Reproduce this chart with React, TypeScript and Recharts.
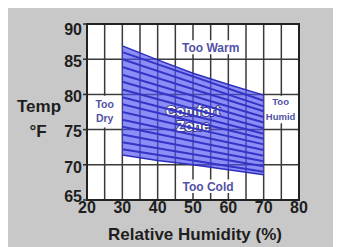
import React from "react"
import {
  ComposedChart,
  Area,
  Line,
  XAxis,
  YAxis,
  CartesianGrid,
  ReferenceArea,
} from "recharts"

// comfort band, read at these humidity points
const humidity = [30, 40, 50, 60, 70]
const bandLow = [71.4, 70.6, 70.0, 69.3, 68.6]
const bandHigh = [86.9, 84.9, 83.0, 81.4, 79.9]

// hatch lines across the band: value at 30% and at 70%
const stripeAt30 = [86.0, 85.0, 83.9, 82.8, 81.8, 80.7, 79.6, 78.6, 77.5, 76.4, 75.4, 74.3, 73.2, 72.2]
const stripeAt70 = [79.1, 78.3, 77.6, 76.8, 76.0, 75.2, 74.4, 73.7, 72.9, 72.1, 71.3, 70.5, 69.8, 69.0]

const xTicks = [20, 25, 30, 35, 40, 45, 50, 55, 60, 65, 70, 75, 80]
const yTicks = [65, 70, 75, 80, 85, 90]

const LABEL = "#5252a6"
const FONT = "'Liberation Sans', Arial, sans-serif"

const rows = humidity.map((h, i) => {
  const row: any = { h, band: [bandLow[i], bandHigh[i]] }
  if (i === 0) stripeAt30.forEach((v, k) => (row["s" + k] = v))
  if (i === humidity.length - 1) stripeAt70.forEach((v, k) => (row["s" + k] = v))
  return row
})

function BoxText(props: any) {
  const { viewBox, lines, size, gap, color, outline } = props
  const { x, y, width, height } = viewBox
  const cx = x + width / 2
  const cy = y + height / 2
  const total = (lines.length - 1) * gap
  return (
    <text
      textAnchor="middle"
      fontFamily={FONT}
      fontSize={size}
      fontWeight="bold"
      fill={color}
      stroke={outline || "none"}
      strokeWidth={outline ? 1.6 : 0}
      paintOrder="stroke"
    >
      {lines.map((l: string, i: number) => (
        <tspan key={l} x={cx} y={cy - total / 2 + i * gap} dy="0.36em">
          {l}
        </tspan>
      ))}
    </text>
  )
}

// the scan's temperature labels sit a little off their grid lines
function YTick(props: any) {
  const { x, y, payload } = props
  const shift = payload.value === 65 ? -4 : payload.value === 90 ? 5 : 2
  return (
    <text x={x} y={y + shift} dy="0.36em" textAnchor="end" fontFamily={FONT} fontSize={16} fontWeight="bold" fill="#1e1e1e">
      {payload.value}
    </text>
  )
}

function YTitle(props: any) {
  const { x, y, height } = props.viewBox
  const cx = x + 31
  const base = y + height / 2
  return (
    <text textAnchor="middle" fontFamily={FONT} fontSize={17} fontWeight="bold" fill="#1e1e1e">
      <tspan x={cx} y={base}>Temp</tspan>
      <tspan x={cx - 1} y={base + 25}>°F</tspan>
    </text>
  )
}

function XTitle(props: any) {
  const { x, width } = props.viewBox
  return (
    <text x={x + width / 2 + 2} y={232} textAnchor="middle" fontFamily={FONT} fontSize={17} fontWeight="bold" fill="#1e1e1e">
      Relative Humidity (%)
    </text>
  )
}

export default function App() {
  return (
    <div style={{ width: 333, height: 239, background: "#c8c8c8" }}>
      <ComposedChart
        width={333}
        height={239}
        data={rows}
        margin={{ top: 16, right: 42, left: 0, bottom: 0 }}
        style={{ fontFamily: FONT }}
      >
        <XAxis
          dataKey="h"
          type="number"
          domain={[20, 80]}
          ticks={xTicks}
          interval={0}
          tickFormatter={(v: number) => (v % 10 === 0 ? String(v) : "")}
          height={47}
          tickLine={false}
          axisLine={false}
          tickSize={0}
          tickMargin={2}
          tick={{ fill: "#1e1e1e", fontSize: 16, fontWeight: "bold" }}
          label={<XTitle />}
        />
        <YAxis
          type="number"
          domain={[65, 90]}
          ticks={yTicks}
          interval={0}
          width={79}
          axisLine={false}
          tickSize={4}
          tickMargin={1}
          tickLine={{ stroke: "#2a2a2a", strokeWidth: 1.5 }}
          tick={<YTick />}
          label={<YTitle />}
        />
        <CartesianGrid stroke="#3a3a3a" strokeWidth={1.5} fill="#ffffff" />

        <Area
          dataKey="band"
          type="linear"
          fill="rgb(80,80,244)"
          fillOpacity={0.65}
          stroke="#2e2ebe"
          strokeWidth={1.5}
          isAnimationActive={false}
        />
        {stripeAt30.map((_, k) => (
          <Line
            key={k}
            dataKey={"s" + k}
            type="linear"
            stroke="#3434c6"
            strokeWidth={2}
            dot={false}
            connectNulls
            isAnimationActive={false}
          />
        ))}

        <ReferenceArea x1={46} x2={64} y1={85.7} y2={87.7} fill="#fff" fillOpacity={1} stroke="none"
          label={<BoxText lines={["Too Warm"]} size={12} gap={0} color={LABEL} />} />
        <ReferenceArea x1={46.5} x2={62} y1={66} y2={67.9} fill="#fff" fillOpacity={1} stroke="none"
          label={<BoxText lines={["Too Cold"]} size={12} gap={0} color={LABEL} />} />
        <ReferenceArea x1={20.3} x2={29.7} y1={75.3} y2={79.8} fill="#fff" fillOpacity={1} stroke="none"
          label={<BoxText lines={["Too", "Dry"]} size={10.5} gap={14} color={LABEL} />} />
        <ReferenceArea x1={70.7} x2={78.9} y1={75.9} y2={79.8} fill="#fff" fillOpacity={1} stroke="none"
          label={<BoxText lines={["Too", "Humid"]} size={9.5} gap={15} color={LABEL} />} />
        <ReferenceArea x1={44} x2={56} y1={75} y2={78.3} fill="none" stroke="none"
          label={<BoxText lines={["Comfort", "Zone"]} size={14} gap={15} color="#ffffff" outline="#2a2a70" />} />

        <ReferenceArea x1={20} x2={80} y1={65} y2={90} fill="none" stroke="#222" strokeWidth={2} />
      </ComposedChart>
    </div>
  )
}
